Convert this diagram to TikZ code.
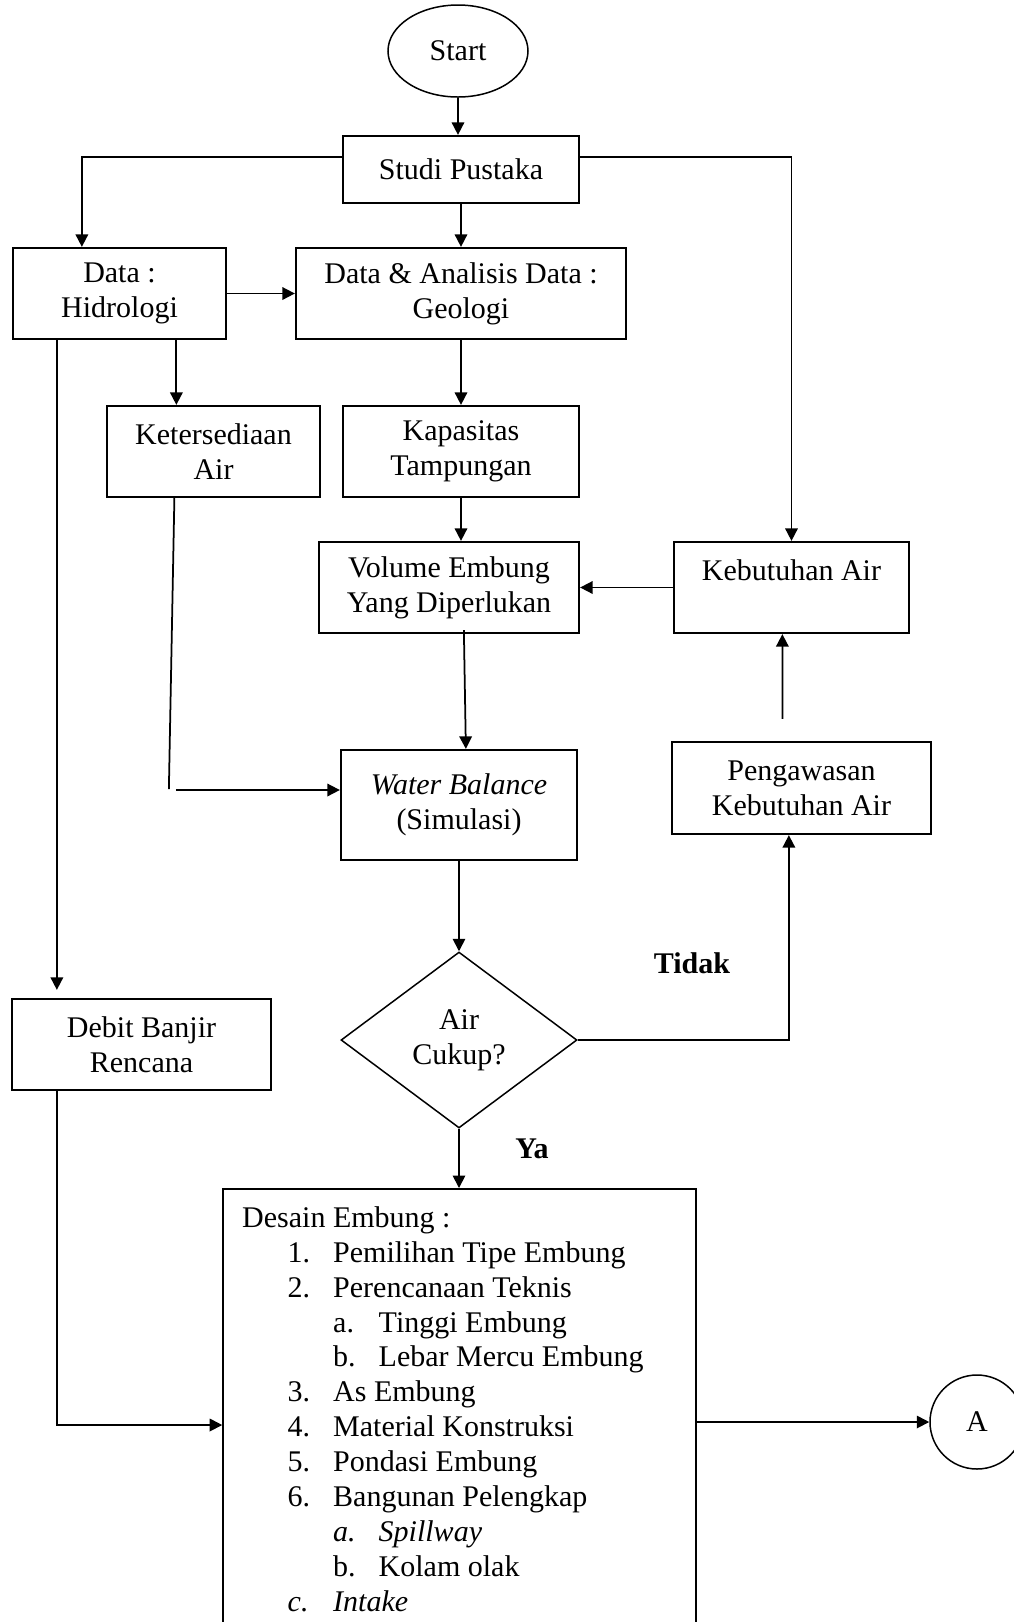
\documentclass[tikz,border=0pt]{standalone}
\usepackage{fontspec}
\setmainfont{Liberation Serif}
\usetikzlibrary{arrows.meta,shapes.geometric,calc}

\newcommand{\itm}[2]{\hspace*{18.2pt}\makebox[18.2pt][l]{#1}#2}
\newcommand{\sitm}[2]{\hspace*{36.4pt}\makebox[18.2pt][l]{#1}#2}

\begin{document}
\begin{tikzpicture}[>={Triangle[length=5pt,width=5pt]}, x=0.4pt, y=-0.4pt,
	font=\fontsize{12}{13.96}\selectfont]
	
	\tikzstyle{box}=[rectangle, draw, line width=0.9pt, align=center, inner sep=0pt]
	\tikzstyle{thinbox}=[rectangle, draw, line width=0.6pt, inner sep=0pt]
	\tikzstyle{term}=[ellipse, draw, line width=0.6pt, inner sep=0pt]
	\tikzstyle{cond}=[diamond, draw, line width=0.6pt, align=center, inner sep=0pt]
	\tikzstyle{flow}=[->, line width=0.7pt]
	\tikzstyle{answer}=[font=\fontsize{12}{13.96}\selectfont\bfseries]
	
	\useasboundingbox (0,0) rectangle (1014,1622);
	\clip (0,0) rectangle (1014,1622);
	
	% Start and literature study
	\node[term, minimum width=56pt, minimum height=36.8pt] (start) at (458,51) {Start};
	\node[box, minimum width=94.4pt, minimum height=26.8pt] (studi) at (461,169.5) {Studi Pustaka};
	
	% Data boxes
	\node[box, minimum width=85.2pt, minimum height=36.4pt] (hidro) at (119.5,293.5) {Data :\\Hidrologi};
	\node[box, minimum width=132pt, minimum height=36.4pt] (geo) at (461,293.5) {Data \& Analisis Data :\\Geologi};
	\node[box, minimum width=85.2pt, minimum height=36.4pt] (keter) at (213.5,451.5) {Ketersediaan\\Air};
	\node[box, minimum width=94.4pt, minimum height=36.4pt] (kapas) at (461,451.5) {Kapasitas\\Tampungan};
	\node[box, minimum width=104pt, minimum height=36.4pt] (vol) at (449,587.5) {Volume Embung\\Yang Diperlukan};
	\node[box, minimum width=94pt, minimum height=36.4pt] (kebut) at (791.5,587.5) {Kebutuhan Air\\\mbox{}};
	
	% Simulation and check
	\node[box, minimum width=94.4pt, minimum height=44pt] (wb) at (459,805) {\textit{Water Balance}\\(Simulasi)};
	\node[box, minimum width=103.6pt, minimum height=36.8pt] (peng) at (801.5,788) {Pengawasan\\Kebutuhan Air};
	\node[cond, minimum width=94.4pt, minimum height=70.4pt] (dec) at (459,1040) {Air\\Cukup?};
	\node[box, minimum width=103.6pt, minimum height=36.4pt] (deb) at (141.5,1044.5) {Debit Banjir\\Rencana};
	
	% Answers
	\node[answer] (tidak) at (692,963) {Tidak};
	\node[answer] (ya) at (532,1149) {Ya};
	
	% Design box
	\node[thinbox, anchor=north, minimum width=189.2pt, minimum height=220pt] (desain) at (459.5,1188) {};
	\node[anchor=north west, align=left, inner sep=0pt] (desainTxt) at ($(desain.north west)+(19.5,18)$)
	{Desain Embung :\\
		\itm{1.}{Pemilihan Tipe Embung}\\
		\itm{2.}{Perencanaan Teknis}\\
		\sitm{a.}{Tinggi Embung}\\
		\sitm{b.}{Lebar Mercu Embung}\\
		\itm{3.}{As Embung}\\
		\itm{4.}{Material Konstruksi}\\
		\itm{5.}{Pondasi Embung}\\
		\itm{6.}{Bangunan Pelengkap}\\
		\sitm{\textit{a.}}{\textit{Spillway}}\\
		\sitm{b.}{Kolam olak}\\
		\itm{\textit{c.}}{\textit{Intake}}};
	
	% Connector A
	\node[circle, draw, line width=0.6pt, minimum size=37.6pt, inner sep=0pt] (A) at (977,1422) {A};
	
	% Flow arrows
	\draw[flow] (start.south) -- (start.south |- studi.north);
	\draw[flow] ($(studi.north west)+(0,22)$) -| ($(hidro.north west)+(70,0)$);
	\draw[flow] ($(studi.north east)+(0,22)$) -| (kebut.north);
	\draw[flow] (studi) -- (geo);
	\draw[flow] (hidro) -- (geo);
	\draw[flow] ($(hidro.south west)+(164.5,0)$) coordinate (hk) -- (hk |- keter.north);
	\draw[flow, shorten >=3.2pt] ($(hidro.south west)+(45,0)$) coordinate (hd) -- (hd |- deb.north);
	\draw[flow] (geo) -- (kapas);
	\draw[flow] (kapas.south) -- (kapas.south |- vol.north);
	\draw[flow] (kebut) -- (vol);
	\draw[flow] ($(vol.south west)+(146,-4)$) -- ($(wb.north west)+(126,0)$);
	
	% Availability line into the balance
	\draw[line width=0.7pt] ($(keter.south west)+(68.5,0)$) -- ($(keter.south west)+(63,291)$);
	\draw[flow] ($(wb.west)+(-164,-15)$) -- ($(wb.west)+(0,-15)$);
	
	% Decision branches
	\draw[flow] (wb) -- (dec);
	\draw[flow] (dec.east) -| ($(peng.south west)+(118,0)$);
	\draw[flow] ($(peng.north west)+(111.5,-22)$) -- ($(kebut.south west)+(109.5,0)$);
	\draw[flow] (dec.south) -- (dec.south |- desain.north);
	\draw[flow] ($(deb.south west)+(46.5,0)$) |- ($(desain.north west)+(0,237)$);
	\draw[flow] (A.west -| desain.east) -- (A);
	
\end{tikzpicture}
\end{document}
